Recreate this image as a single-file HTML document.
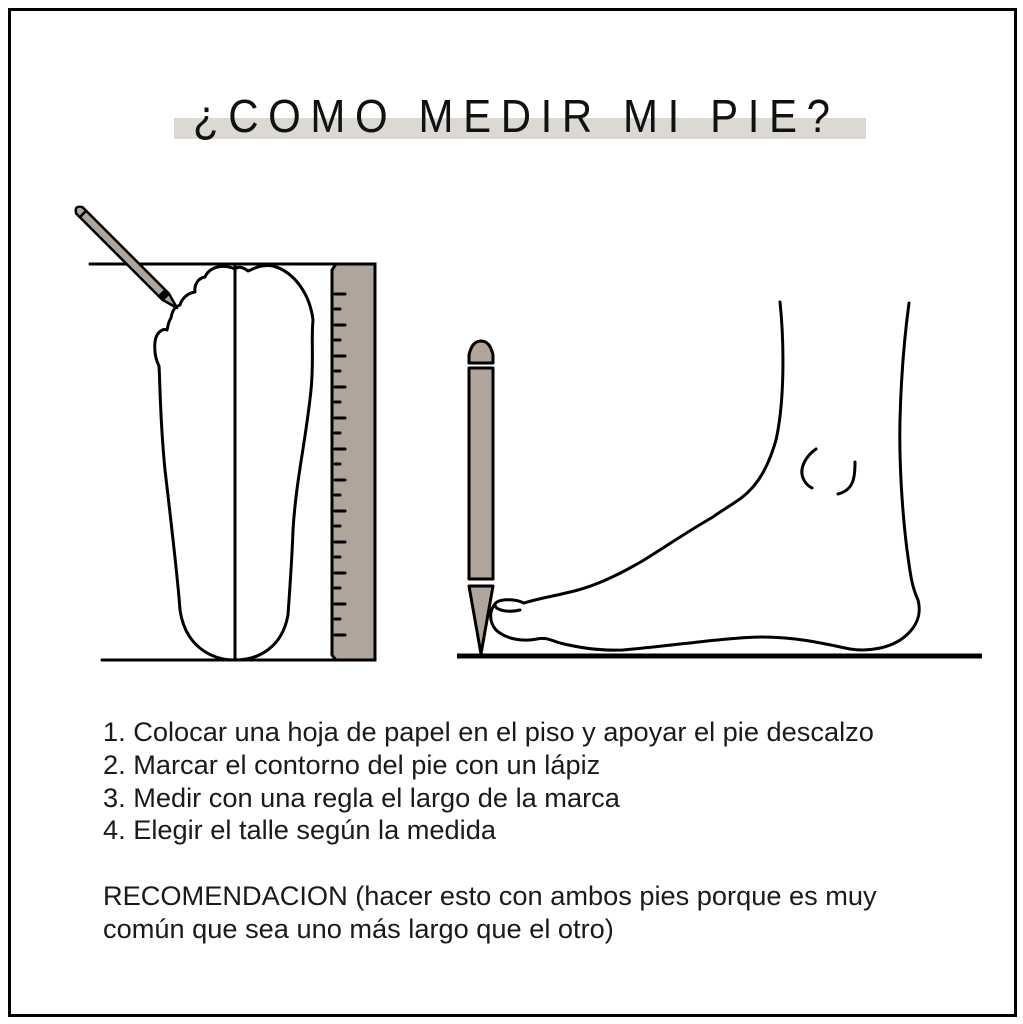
<!DOCTYPE html>
<html><head><meta charset="utf-8"><style>
html,body{margin:0;padding:0;background:#fff;}
svg{display:block;}
</style></head><body>
<svg width="1023" height="1024" viewBox="0 0 1023 1024" xmlns="http://www.w3.org/2000/svg">
<rect x="0" y="0" width="1023" height="1024" fill="#fff"/>
<rect x="9.5" y="9.5" width="1006" height="1006" fill="none" stroke="#000" stroke-width="3"/>
<rect x="174" y="118" width="692" height="21" fill="#dcd8d4"/>
<text x="193" y="132" font-family="Liberation Sans, sans-serif" font-size="42" fill="#111" textLength="637" lengthAdjust="spacing" transform="translate(0,-13) scale(1,1.1)">¿COMO MEDIR MI PIE?</text>

<g fill="none" stroke="#000" stroke-width="3" stroke-linecap="round" stroke-linejoin="round">
<line x1="90" y1="264" x2="375" y2="264"/>
<line x1="102" y1="660" x2="375" y2="660"/>
<path d="M235,269 C224,264 210,266 205,277 C198,278 194,285 195,292 C188,293 182,298 180,305 C174,307 172,312 171,318 C168,322 168,327 167,330 C162,328 156,333 155,342 C154,352 156,360 159,366 C160,380 160,420 165,470 C172,530 178,580 180,610 C185,645 210,660 235,660 C258,660 282,648 288,615 C290,585 292,560 293,530 C296,480 306,440 311,390 C314,360 311,340 313,320 C310,295 295,272 273,266 C262,264 255,268 248,271 C243,267 238,266 235,269 Z" fill="#fff"/>
<line x1="235" y1="264" x2="235" y2="660"/>
</g>
<path d="M336,264 L375,264 L375,660 L336,660 L332,655 L332,270 Z" fill="#afa59b" stroke="#000" stroke-width="3"/>
<g stroke="#000" stroke-width="3" stroke-linecap="round">
<line x1="335" y1="294" x2="345" y2="294"/><line x1="335" y1="309" x2="340" y2="309"/>
<line x1="335" y1="325" x2="345" y2="325"/><line x1="335" y1="340" x2="340" y2="340"/>
<line x1="335" y1="356" x2="345" y2="356"/><line x1="335" y1="371" x2="340" y2="371"/>
<line x1="335" y1="387" x2="345" y2="387"/><line x1="335" y1="402" x2="340" y2="402"/>
<line x1="335" y1="418" x2="345" y2="418"/><line x1="335" y1="433" x2="340" y2="433"/>
<line x1="335" y1="449" x2="345" y2="449"/><line x1="335" y1="464" x2="340" y2="464"/>
<line x1="335" y1="480" x2="345" y2="480"/><line x1="335" y1="495" x2="340" y2="495"/>
<line x1="335" y1="511" x2="345" y2="511"/><line x1="335" y1="526" x2="340" y2="526"/>
<line x1="335" y1="542" x2="345" y2="542"/><line x1="335" y1="557" x2="340" y2="557"/>
<line x1="335" y1="573" x2="345" y2="573"/><line x1="335" y1="588" x2="340" y2="588"/>
<line x1="335" y1="604" x2="345" y2="604"/><line x1="335" y1="619" x2="340" y2="619"/>
<line x1="335" y1="635" x2="345" y2="635"/>
</g>
<g transform="translate(177,308) rotate(-135)" stroke="#000" stroke-width="2.5" fill="#afa59b" stroke-linejoin="round">
<path d="M0,0 L16,-4.5 L16,4.5 Z"/>
<rect x="16" y="-4.5" width="5" height="9" fill="#000"/>
<rect x="21" y="-4.5" width="112" height="9"/>
<path d="M133,-4.5 L138,-4.5 Q146,0 138,4.5 L133,4.5 Z"/>
</g>

<line x1="457" y1="656" x2="982" y2="656" stroke="#000" stroke-width="5"/>
<g fill="none" stroke="#000" stroke-width="3" stroke-linecap="round" stroke-linejoin="round">
<path d="M780,302 C784,340 785,400 776,440 C766,475 752,492 734,503 C725,509 718,513 713,517 C690,530 668,545 644,560 C622,573 600,584 578,590 C560,595 540,598 524,603"/>
<path d="M524,603 C514,598 498,599 495,604 C494,610 507,613 520,610"/>
<path d="M495,604 C489,611 489,622 496,630 C506,639 522,642 537,639 C546,637 550,640 560,643 C580,648 600,651 623,650 C680,645 720,638 761,637 C800,637 830,645 850,649 C868,652 890,648 903,638 C916,628 922,615 918,600 C911,585 910,570 907,550 C902,510 899,460 900,420 C901,380 904,340 909,303"/>
<path d="M816,449 C806,456 799,468 803,478 C805,483 808,486 812,488"/>
<path d="M855,462 C855,477 854,490 838,494"/>
</g>
<g stroke="#000" stroke-width="3" fill="#afa59b" stroke-linejoin="round">
<path d="M469,363 L469,355 Q472,341 481,341 Q490,341 493,355 L493,363 Z"/>
<rect x="469" y="368" width="24" height="211"/>
<path d="M469,586 L493,586 L481,654 Z"/>
</g>

<g font-family="Liberation Sans, sans-serif" font-size="27.2" fill="#1a1a1a">
<text x="103" y="741">1. Colocar una hoja de papel en el piso y apoyar el pie descalzo</text>
<text x="103" y="774">2. Marcar el contorno del pie con un lápiz</text>
<text x="103" y="807">3. Medir con una regla el largo de la marca</text>
<text x="103" y="839">4. Elegir el talle según la medida</text>
<text x="103" y="905">RECOMENDACION (hacer esto con ambos pies porque es muy</text>
<text x="103" y="938">común que sea uno más largo que el otro)</text>
</g>
</svg>
</body></html>
